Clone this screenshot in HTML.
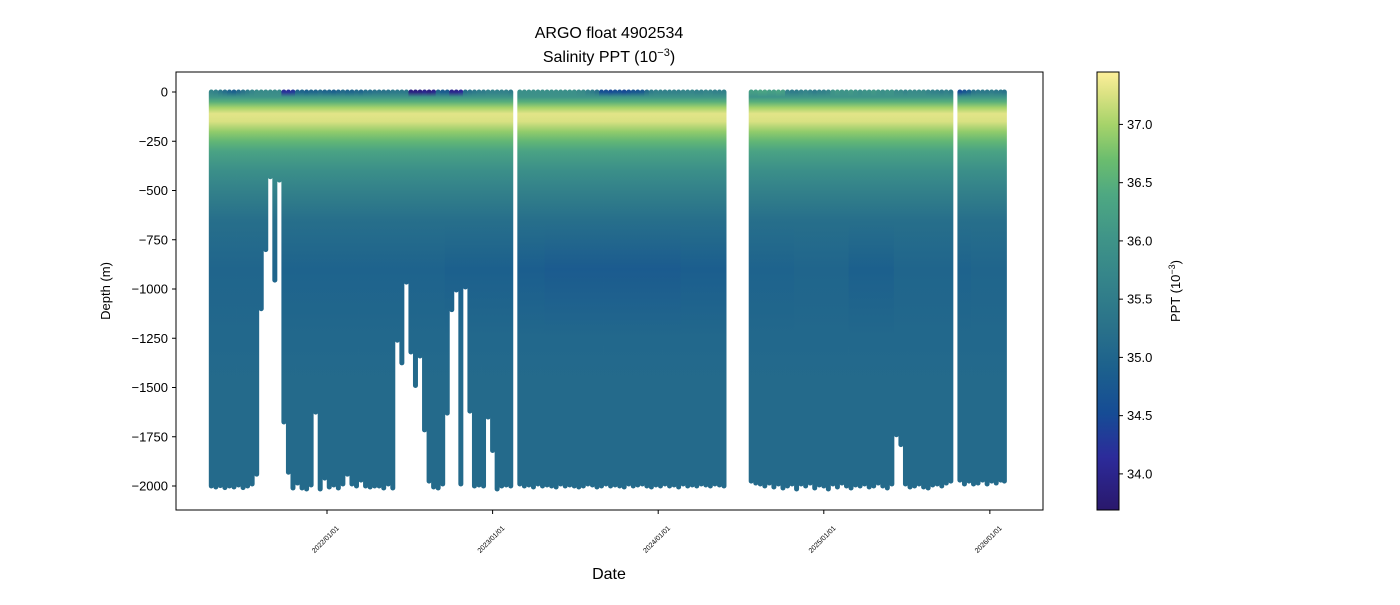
<!DOCTYPE html>
<html><head><meta charset="utf-8"><style>
body{margin:0;background:#fff;}
svg{font-family:"Liberation Sans","DejaVu Sans",sans-serif;}
</style></head><body>
<svg id="chart" width="1400" height="600" viewBox="0 0 1400 600" xmlns="http://www.w3.org/2000/svg">
<defs id="defs"></defs>
<rect x="0" y="0" width="1400" height="600" fill="#fff"/>
<text x="609" y="38" font-size="16" text-anchor="middle">ARGO float 4902534</text>
<text x="609" y="62" font-size="16" text-anchor="middle">Salinity PPT (10<tspan baseline-shift="super" font-size="11">−3</tspan>)</text>
<g id="profiles"></g>
<rect x="176" y="72" width="867" height="438" fill="none" stroke="#000" stroke-width="1"/>
<g id="yticks"></g>
<g id="xticks"></g>
<text transform="translate(110,291) rotate(-90)" font-size="13" text-anchor="middle">Depth (m)</text>
<text x="609" y="579" font-size="16" text-anchor="middle">Date</text>
<rect id="cbar" x="1097" y="72" width="22" height="438" stroke="#000" stroke-width="1"/>
<g id="cticks"></g>
<text transform="translate(1180,291) rotate(-90)" font-size="13" text-anchor="middle">PPT (10<tspan baseline-shift="super" font-size="9">−3</tspan>)</text>
</svg>
<script>
// profile dates: days relative to 2022-01-01
const profileDay = [-255,-245,-235,-225,-215,-205,-195,-185,-175,-165,-155,-145,-135,-125,-115,-105,-95,-85,-75,-65,-55,-45,-35,-25,-15,-5,5,15,25,35,45,55,65,75,85,95,105,115,125,135,145,155,165,175,185,195,205,215,225,235,245,255,265,275,285,295,305,315,325,335,345,355,365,375,385,395,405,
425,435,445,455,465,475,485,495,505,515,525,535,545,555,565,575,585,595,605,615,625,635,645,655,665,675,685,695,705,715,725,735,745,755,765,775,785,795,805,815,825,835,845,855,865,875,
935,945,955,965,975,985,995,1005,1015,1025,1035,1045,1055,1065,1075,1085,1095,1105,1115,1125,1135,1145,1155,1165,1175,1185,1195,1205,1215,1225,1235,1245,1255,1265,1275,1285,1295,1305,1315,1325,1335,1345,1355,1365,1375,
1395,1405,1415,1425,1435,1445,1455,1465,1475,1485,1493];
const maxDepth = [-2000,-2005,-1998,-2008,-2000,-2005,-1995,-2008,-2000,-1990,
-1940,-1100,-800,-430,-955,-447,-1675,-1930,-2010,-1985,
-2010,-2015,-1995,-1625,-2015,-1960,-2005,-1995,-2010,-1990,
-1940,-1990,-2000,-1970,-2000,-2005,-2000,-2000,-2010,-1990,
-2010,-1260,-1375,-965,-1320,-1490,-1340,-1715,-1975,-2005,
-2010,-1990,-1630,-1105,-1005,-1990,-990,-1620,-2000,-1995,
-2000,-1650,-1820,-2015,-2000,-1995,-2000,
-1990,-2000,-1995,-2005,-1990,-2000,-1995,-2000,-2005,-1990,
-2000,-1995,-2000,-2005,-2000,-1990,-1995,-2005,-2000,-1990,
-2000,-1995,-2000,-2005,-1990,-2000,-1995,-1990,-2000,-2005,
-1995,-2000,-1990,-2000,-1995,-2005,-1990,-2000,-1995,-2000,
-1990,-1995,-2000,-1990,-1995,-2000,
-1975,-1985,-1990,-2000,-1985,-2005,-1990,-2010,-2000,-1990,
-2015,-1990,-2000,-1985,-2010,-1995,-2000,-2015,-1990,-2005,
-1985,-2000,-2010,-1995,-2000,-1990,-2005,-2000,-1985,-2000,
-2010,-1990,-1740,-1790,-1990,-2005,-2000,-1990,-2005,-2010,
-1995,-1990,-2000,-1985,-1975,
-1970,-1990,-1975,-1990,-1985,-1970,-1990,-1975,-1985,-1970,-1975];
const surfSal = [35.7,35.6,35.4,35.2,35.0,34.9,35.1,35.3,35.5,35.7,
35.8,35.8,35.8,35.8,35.8,35.8,34.2,34.2,34.3,35.0,
35.0,34.9,35.0,35.0,35.1,35.0,35.0,34.9,35.0,35.1,
35.0,35.0,35.1,35.0,35.2,35.2,35.3,35.3,35.3,35.3,
35.4,35.4,35.4,35.4,33.9,33.9,33.9,34.0,33.9,34.0,
35.0,34.8,34.8,34.0,34.0,34.1,35.2,35.3,35.4,35.5,
35.5,35.6,35.6,35.6,35.6,35.6,35.5,
35.9,35.9,35.9,35.9,35.9,35.9,35.9,35.9,35.9,35.9,35.9,35.9,35.9,
35.8,35.8,35.6,35.5,35.3,
34.6,34.6,34.5,34.6,34.6,34.5,34.6,34.7,34.7,34.8,35.2,
35.5,35.6,35.6,35.6,35.6,35.6,35.6,35.7,35.7,35.7,35.6,35.6,35.7,35.7,35.6,35.6,35.6,
36.2,36.2,36.3,36.3,36.2,36.2,36.3,36.2,
35.6,35.5,35.5,35.6,35.7,35.6,35.5,35.6,35.6,35.7,
36.0,36.1,36.0,36.0,36.1,36.0,35.9,36.0,36.0,36.1,36.0,35.9,36.0,36.0,
35.8,35.8,35.7,35.8,35.8,35.8,35.8,35.7,35.6,35.6,35.5,35.6,35.5,
34.5,34.7,34.9,35.3,35.4,35.4,35.4,35.5,35.4,35.4,35.3];
const midSal = [35.0,35.0,35.0,35.0,35.0,35.0,35.0,35.0,35.0,35.0,35.0,35.0,35.0,35.0,35.0,35.0,
34.95,34.95,34.95,34.95,34.95,34.95,34.95,34.95,34.95,34.95,34.95,34.95,34.95,34.95,34.95,34.95,34.95,34.95,34.95,34.95,
34.95,34.95,34.95,34.95,34.95,34.95,34.95,34.95,34.95,34.95,34.95,34.95,34.95,34.95,34.95,34.95,
34.9,34.9,34.9,34.9,34.9,34.9,34.9,34.9,34.9,34.9,34.9,34.9,34.9,34.9,34.9,
34.85,34.85,34.85,34.85,34.85,34.85,
34.8,34.8,34.8,34.8,34.8,34.8,34.8,34.8,34.8,34.8,34.8,34.8,34.8,34.8,34.8,
34.8,34.8,34.8,34.8,34.8,34.8,34.8,34.8,34.8,34.8,34.8,34.8,34.8,34.8,34.8,
34.85,34.85,34.85,34.85,34.85,34.85,34.85,34.85,34.85,34.85,
34.95,34.95,34.95,34.95,34.95,34.95,34.95,34.95,34.95,34.95,
35.0,35.0,35.0,35.0,35.0,35.0,35.0,35.0,35.0,35.0,35.0,35.0,
34.9,34.9,34.9,34.9,34.9,34.9,34.9,34.9,34.9,34.9,
35.0,35.0,35.0,35.0,35.0,35.0,35.0,35.0,35.0,35.0,35.0,35.0,35.0,
34.95,34.95,34.95,35.0,35.0,35.0,35.0,35.0,35.0,35.0,35.0];
// typical salinity structure below the surface (null = surface / mid-depth per profile)
const depthLevels = [0,-25,-50,-80,-110,-150,-200,-250,-300,-400,-500,-650,-900,-1250,-1500,-2000];
const meanProfile = [null,36.0,36.5,37.0,37.3,37.25,36.9,36.6,36.3,35.9,35.6,35.2,null,35.05,35.1,35.1];
const yTickVals = [0,-250,-500,-750,-1000,-1250,-1500,-1750,-2000];
const xTickDays = [0,365,730,1095,1461];
const xTickLabels = ["2022/01/01","2023/01/01","2024/01/01","2025/01/01","2026/01/01"];
const cTickVals = [34.0,34.5,35.0,35.5,36.0,36.5,37.0];

const NS='http://www.w3.org/2000/svg';
const xS = d => 327 + d*165.6/365;
const yS = m => 92 - m*0.197;
const cMin=33.69, cMax=37.45;
const cy = v => 510 - (v-cMin)/(cMax-cMin)*438;
const stops=[[0,'#2a186c'],[0.12,'#2c2b9a'],[0.22,'#164c95'],[0.32,'#1c608d'],[0.42,'#2a728a'],[0.52,'#34838a'],[0.62,'#3f9488'],[0.72,'#4ea882'],[0.8,'#6bbd6e'],[0.88,'#a6d36a'],[0.95,'#dbe283'],[1,'#fdef9a']];
function hex(c){return [1,3,5].map(i=>parseInt(c.substr(i,2),16));}
function cmap(v){let t=(v-cMin)/(cMax-cMin);t=Math.max(0,Math.min(1,t));
 for(let i=1;i<stops.length;i++){if(t<=stops[i][0]){const a=stops[i-1],b=stops[i];const f=(t-a[0])/(b[0]-a[0]);const A=hex(a[1]),B=hex(b[1]);return 'rgb('+A.map((x,k)=>Math.round(x+(B[k]-x)*f)).join(',')+')';}}
 return stops[stops.length-1][1];}
const defs=document.getElementById('defs');
const g=document.getElementById('profiles');
profileDay.forEach((day,i)=>{
  const sv=surfSal[Math.min(i,surfSal.length-1)], mv=midSal[Math.min(i,midSal.length-1)], md=maxDepth[Math.min(i,maxDepth.length-1)];
  const gr=document.createElementNS(NS,'linearGradient');
  gr.setAttribute('id','pg'+i);gr.setAttribute('gradientUnits','userSpaceOnUse');
  gr.setAttribute('x1','0');gr.setAttribute('x2','0');gr.setAttribute('y1',yS(0));gr.setAttribute('y2',yS(-2000));
  depthLevels.forEach((dl,k)=>{
    let v=meanProfile[k];
    if(k===0)v=sv; if(v===null)v=mv;
    const s=document.createElementNS(NS,'stop');
    s.setAttribute('offset',(-dl/2000).toFixed(4));s.setAttribute('stop-color',cmap(v));gr.appendChild(s);
  });
  defs.appendChild(gr);
  const l=document.createElementNS(NS,'line');
  
  
  const x=xS(day);
  l.setAttribute('x1',x);l.setAttribute('x2',x);l.setAttribute('y1',yS(0));l.setAttribute('y2',yS(md));
  l.setAttribute('stroke','url(#pg'+i+')');l.setAttribute('stroke-width','5');l.setAttribute('stroke-linecap','round');
  g.appendChild(l);
});
const yt=document.getElementById('yticks');
yTickVals.forEach(v=>{
  const y=yS(v);
  const t=document.createElementNS(NS,'line');
  
  
  t.setAttribute('x1',172);t.setAttribute('x2',176);t.setAttribute('y1',y);t.setAttribute('y2',y);t.setAttribute('stroke','#000');yt.appendChild(t);
  const tx=document.createElementNS(NS,'text');
  
  
  tx.setAttribute('x',168);tx.setAttribute('y',y+4.5);tx.setAttribute('font-size','13');tx.setAttribute('text-anchor','end');
  tx.textContent=v===0?'0':'−'+Math.abs(v);yt.appendChild(tx);
});
const xt=document.getElementById('xticks');
xTickDays.forEach((d,i)=>{
  const x=xS(d);
  const t=document.createElementNS(NS,'line');
  
  
  t.setAttribute('x1',x);t.setAttribute('x2',x);t.setAttribute('y1',510);t.setAttribute('y2',514);t.setAttribute('stroke','#000');xt.appendChild(t);
  const tx=document.createElementNS(NS,'text');
  
  
  tx.setAttribute('transform','translate('+x+',541) rotate(-45)');tx.setAttribute('font-size','7');tx.setAttribute('text-anchor','middle');
  tx.textContent=xTickLabels[i];xt.appendChild(tx);
});
const cg=document.createElementNS(NS,'linearGradient');
cg.setAttribute('id','cbg');cg.setAttribute('x1','0');cg.setAttribute('x2','0');cg.setAttribute('y1','1');cg.setAttribute('y2','0');
stops.forEach(s=>{const st=document.createElementNS(NS,'stop');st.setAttribute('offset',s[0]);st.setAttribute('stop-color',s[1]);cg.appendChild(st);});
defs.appendChild(cg);
document.getElementById('cbar').setAttribute('fill','url(#cbg)');
const ct=document.getElementById('cticks');
cTickVals.forEach(v=>{
  const y=cy(v);
  const t=document.createElementNS(NS,'line');
  
  
  t.setAttribute('x1',1119);t.setAttribute('x2',1123);t.setAttribute('y1',y);t.setAttribute('y2',y);t.setAttribute('stroke','#000');ct.appendChild(t);
  const tx=document.createElementNS(NS,'text');
  
  
  tx.setAttribute('x',1127);tx.setAttribute('y',y+4.5);tx.setAttribute('font-size','13');
  tx.textContent=v.toFixed(1);ct.appendChild(tx);
});
</script>
</body></html>
